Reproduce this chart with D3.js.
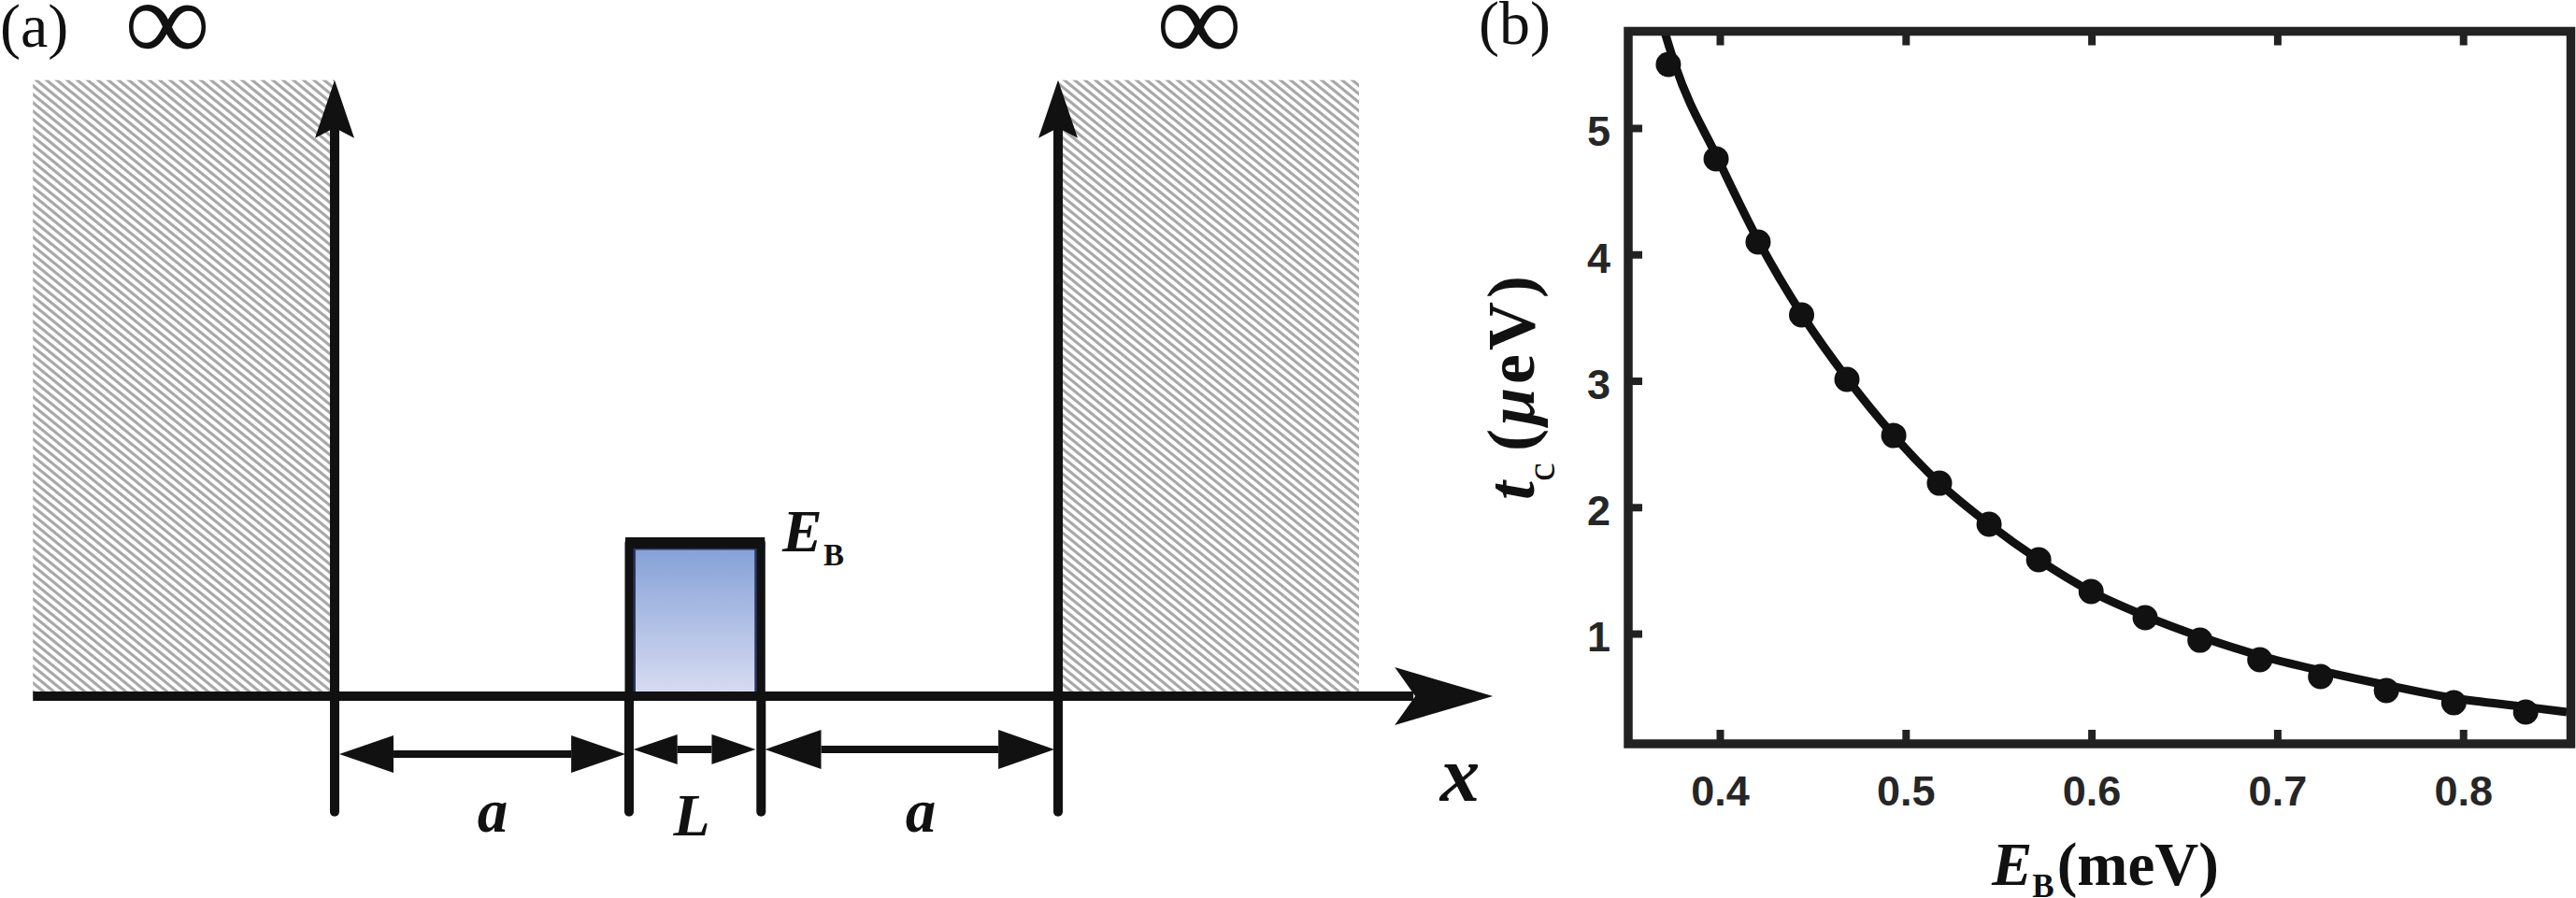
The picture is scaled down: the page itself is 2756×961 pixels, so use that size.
<!DOCTYPE html>
<html>
<head>
<meta charset="utf-8">
<script src="https://cdn.jsdelivr.net/npm/d3@7"></script>
<style>
  html, body { margin: 0; padding: 0; background: #fff; overflow: hidden; }
  svg { display: block; }
  text { fill: #111; font-family: "Liberation Serif", serif; }
  .tick-label text { font-family: "Liberation Sans", sans-serif; font-weight: 700; font-size: 45px; fill: #262626; }
</style>
</head>
<body>
<svg id="chart" width="2756" height="961"></svg>
<script>
// Panel (b): data
const dotEnergy = [0.3723, 0.398, 0.4206, 0.444, 0.4684, 0.4936, 0.5182, 0.5449, 0.5716, 0.5998, 0.6289, 0.6584, 0.6906, 0.7233, 0.7587, 0.795, 0.8337];
const dotCoupling = [5.503, 4.756, 4.098, 3.521, 3.011, 2.567, 2.19, 1.865, 1.584, 1.333, 1.126, 0.948, 0.793, 0.66, 0.549, 0.453, 0.379];
const fitEnergy = [0.3703, 0.3758, 0.399, 0.4211, 0.4443, 0.4689, 0.4936, 0.5182, 0.5449, 0.5716, 0.5998, 0.6289, 0.6596, 0.6913, 0.724, 0.7587, 0.795, 0.8337, 0.8558];
const fitCoupling = [5.761, 5.503, 4.756, 4.098, 3.521, 3.011, 2.567, 2.19, 1.865, 1.584, 1.333, 1.14, 0.97, 0.823, 0.704, 0.593, 0.49, 0.42, 0.38];
const xTicks = [0.4, 0.5, 0.6, 0.7, 0.8];
const yTicks = [1, 2, 3, 4, 5];

// Panel (a): schematic, x runs 0..1 between the two walls, barrier height is 1
const wallEdges = [0, 1];
const barrierEdges = [0.407, 0.5895];
const barrierHeight = 1;
const wallHeight = 4.02;
const hatchSpans = [[-0.417, 0], [1, 1.416]];
const spanArrows = [
  { from: 0.0065, to: 0.402, y: -0.378, head: 58, half: 20 },
  { from: 0.413, to: 0.582, y: -0.347, head: 47, half: 16 },
  { from: 0.595, to: 0.995, y: -0.347, head: 60, half: 21 }
];

const svg = d3.select("#chart");
const defs = svg.append("defs");

// hatch pattern for the infinite walls
const hatchW = 11, hatchH = 9;
const hatch = defs.append("pattern")
  .attr("id", "hatch")
  .attr("patternUnits", "userSpaceOnUse")
  .attr("width", hatchW)
  .attr("height", hatchH);
[-hatchW, 0, hatchW].forEach(off => {
  hatch.append("line")
    .attr("x1", off - hatchW).attr("y1", -hatchH)
    .attr("x2", off + 2 * hatchW).attr("y2", 2 * hatchH)
    .attr("stroke", "#a8a8a8")
    .attr("stroke-width", 3.2);
});

const grad = defs.append("linearGradient")
  .attr("id", "barrierFill")
  .attr("x1", "0%").attr("x2", "0%").attr("y1", "0%").attr("y2", "100%");
grad.append("stop").attr("offset", "0%").attr("stop-color", "#829fd6");
grad.append("stop").attr("offset", "100%").attr("stop-color", "#d9ddf2");

drawSchematic();
drawPlot();

// ---------------------------------------------------------------------
// (a) double well schematic
// ---------------------------------------------------------------------
function drawSchematic() {
  const ink = "#111";
  const x = d3.scaleLinear().domain([0, 1]).range([358, 1132]);
  const y = d3.scaleLinear().domain([0, 1]).range([745, 581]);
  const g = svg.append("g");

  g.selectAll("rect.wall")
    .data(hatchSpans)
    .enter()
    .append("rect")
    .attr("class", "wall")
    .attr("x", d => x(d[0]))
    .attr("y", y(wallHeight))
    .attr("width", d => x(d[1]) - x(d[0]))
    .attr("height", y(0) - y(wallHeight))
    .attr("fill", "url(#hatch)");

  // barrier
  g.append("rect")
    .attr("x", x(barrierEdges[0]))
    .attr("y", y(barrierHeight))
    .attr("width", x(barrierEdges[1]) - x(barrierEdges[0]))
    .attr("height", y(0) - y(barrierHeight))
    .attr("fill", "url(#barrierFill)");
  g.append("rect")
    .attr("x", x(barrierEdges[0]) + 5.5)
    .attr("y", y(barrierHeight) + 6)
    .attr("width", x(barrierEdges[1]) - x(barrierEdges[0]) - 11)
    .attr("height", y(0) - y(barrierHeight) - 9)
    .attr("fill", "none")
    .attr("stroke", "#2b3560")
    .attr("stroke-width", 3);
  g.append("path")
    .attr("d", d3.line()([
      [x(barrierEdges[0]), y(0)],
      [x(barrierEdges[0]), y(barrierHeight)],
      [x(barrierEdges[1]), y(barrierHeight)],
      [x(barrierEdges[1]), y(0)]
    ]))
    .attr("fill", "none")
    .attr("stroke", ink)
    .attr("stroke-width", 9)
    .attr("stroke-linejoin", "round");
  g.append("line")
    .attr("x1", x(barrierEdges[0]) - 4).attr("x2", x(barrierEdges[1]) + 4)
    .attr("y1", y(barrierHeight)).attr("y2", y(barrierHeight))
    .attr("stroke", ink)
    .attr("stroke-width", 12);

  // verticals under the walls and barrier edges
  const drop = -0.755;
  g.selectAll("line.drop")
    .data(wallEdges.concat(barrierEdges))
    .enter()
    .append("line")
    .attr("class", "drop")
    .attr("x1", d => x(d))
    .attr("x2", d => x(d))
    .attr("y1", y(0))
    .attr("y2", y(drop))
    .attr("stroke", ink)
    .attr("stroke-width", 10)
    .attr("stroke-linecap", "round");

  // wall axes up to the arrow heads
  wallEdges.forEach(d => {
    const px = x(d), tip = y(wallHeight);
    g.append("line")
      .attr("x1", px).attr("x2", px)
      .attr("y1", y(0)).attr("y2", tip + 45)
      .attr("stroke", ink).attr("stroke-width", 10);
    g.append("path")
      .attr("d", `M${px},${tip}L${px + 21},${tip + 62}L${px},${tip + 51}L${px - 21},${tip + 62}Z`)
      .attr("fill", ink);
  });

  // x axis
  const xEnd = x(1.601);
  g.append("line")
    .attr("x1", x(-0.417)).attr("x2", xEnd - 85)
    .attr("y1", y(0)).attr("y2", y(0))
    .attr("stroke", ink).attr("stroke-width", 10);
  g.append("path")
    .attr("d", `M${xEnd},${y(0)}L${xEnd - 105},${y(0) - 31}L${xEnd - 83},${y(0)}L${xEnd - 105},${y(0) + 31}Z`)
    .attr("fill", ink);

  // double headed span arrows
  spanArrows.forEach(d => {
    const x0 = x(d.from), x1 = x(d.to), py = y(d.y);
    g.append("line")
      .attr("x1", x0 + d.head).attr("x2", x1 - d.head)
      .attr("y1", py).attr("y2", py)
      .attr("stroke", ink).attr("stroke-width", 8);
    g.append("path")
      .attr("d", `M${x0},${py}L${x0 + d.head},${py - d.half}V${py + d.half}Z`)
      .attr("fill", ink);
    g.append("path")
      .attr("d", `M${x1},${py}L${x1 - d.head},${py - d.half}V${py + d.half}Z`)
      .attr("fill", ink);
  });

  // labels
  addText(0, 50, "(a)", 66, "normal", "normal");
  addInfinity(137);
  addInfinity(1241);

  addItalic(527, 890, "a", 65, "middle");
  addItalic(985, 890, "a", 65, "middle");
  addItalic(740, 894, "L", 64, "middle");
  addItalic(1562, 857, "x", 85, "middle");

  addItalic(837, 590, "E", 64, "start");
  addText(881, 605, "B", 33, "bold", "normal");
}

function addInfinity(left) {
  svg.append("text")
    .attr("x", left + 42)
    .attr("y", 65)
    .attr("text-anchor", "middle")
    .style("font-family", "'Liberation Serif', serif")
    .style("font-size", "125px")
    .style("font-weight", "700")
    .text("∞");
}

function addText(px, py, str, size, weight, style) {
  return svg.append("text")
    .attr("x", px).attr("y", py)
    .style("font-size", size + "px")
    .style("font-weight", weight)
    .style("font-style", style)
    .text(str);
}

function addItalic(px, py, str, size, anchor) {
  return addText(px, py, str, size, "bold", "italic").attr("text-anchor", anchor);
}

// ---------------------------------------------------------------------
// (b) tunnel coupling vs barrier height
// ---------------------------------------------------------------------
function drawPlot() {
  const left = 1742, right = 2750.5, top = 33.5, bottom = 796;
  const frameColor = "#222";

  const x = d3.scaleLinear().domain([0.3507, 0.858]).range([left, right]);
  const y = d3.scaleLinear().domain([0.128, 5.765]).range([bottom, top]);

  const clip = defs.append("clipPath").attr("id", "plotClip");
  clip.append("rect")
    .attr("x", left).attr("y", top)
    .attr("width", right - left).attr("height", bottom - top);

  const axisBottom = d3.axisBottom(x)
    .tickValues(xTicks)
    .tickFormat(d3.format(".1f"))
    .tickSize(-15)
    .tickPadding(34);
  const axisTop = d3.axisTop(x).tickValues(xTicks).tickFormat("").tickSize(-15);
  const axisLeft = d3.axisLeft(y)
    .tickValues(yTicks)
    .tickFormat(d3.format("d"))
    .tickSize(-15)
    .tickPadding(19);

  const gx = svg.append("g")
    .attr("class", "tick-label")
    .attr("transform", `translate(0,${bottom})`)
    .call(axisBottom);
  const gt = svg.append("g")
    .attr("transform", `translate(0,${top})`)
    .call(axisTop);
  const gy = svg.append("g")
    .attr("class", "tick-label")
    .attr("transform", `translate(${left},0)`)
    .call(axisLeft);
  gy.selectAll("text").attr("dy", "0.42em");

  [gx, gt, gy].forEach(a => {
    a.select(".domain").remove();
    a.selectAll("line").attr("stroke", frameColor).attr("stroke-width", 8);
  });

  // fit curve
  const curve = d3.line()
    .x(d => x(d[0]))
    .y(d => y(d[1]))
    .curve(d3.curveMonotoneX);
  svg.append("path")
    .datum(d3.zip(fitEnergy, fitCoupling))
    .attr("d", curve)
    .attr("clip-path", "url(#plotClip)")
    .attr("fill", "none")
    .attr("stroke", "#111")
    .attr("stroke-width", 9);

  svg.selectAll("circle.dot")
    .data(d3.zip(dotEnergy, dotCoupling))
    .enter()
    .append("circle")
    .attr("class", "dot")
    .attr("cx", d => x(d[0]))
    .attr("cy", d => y(d[1]))
    .attr("r", 13.5)
    .attr("fill", "#111");

  svg.append("rect")
    .attr("x", left).attr("y", top)
    .attr("width", right - left).attr("height", bottom - top)
    .attr("fill", "none")
    .attr("stroke", frameColor)
    .attr("stroke-width", 9.5);

  addText(1582, 47, "(b)", 66, "normal", "normal");

  // x title
  const xt = svg.append("text").attr("x", 2131).attr("y", 947).style("font-size", "65px").style("font-weight", "700");
  xt.append("tspan").style("font-style", "italic").text("E");
  xt.append("tspan").attr("dy", 13).style("font-size", "35px").text("B");
  xt.append("tspan").attr("dy", -13).attr("dx", 3).text("(meV)");

  // y title
  const yt = svg.append("text")
    .attr("transform", "translate(1641,535) rotate(-90)")
    .style("font-size", "72px")
    .style("font-weight", "700");
  yt.append("tspan").style("font-style", "italic").text("t");
  yt.append("tspan").attr("dy", 22).style("font-size", "45px").style("font-weight", "400").text("c");
  yt.append("tspan").attr("dy", -22).attr("dx", 12).style("letter-spacing", "4px").text("(");
  yt.append("tspan").style("font-style", "italic").style("letter-spacing", "4px").text("μ");
  yt.append("tspan").style("letter-spacing", "4px").text("eV)");
}
</script>
</body>
</html>
